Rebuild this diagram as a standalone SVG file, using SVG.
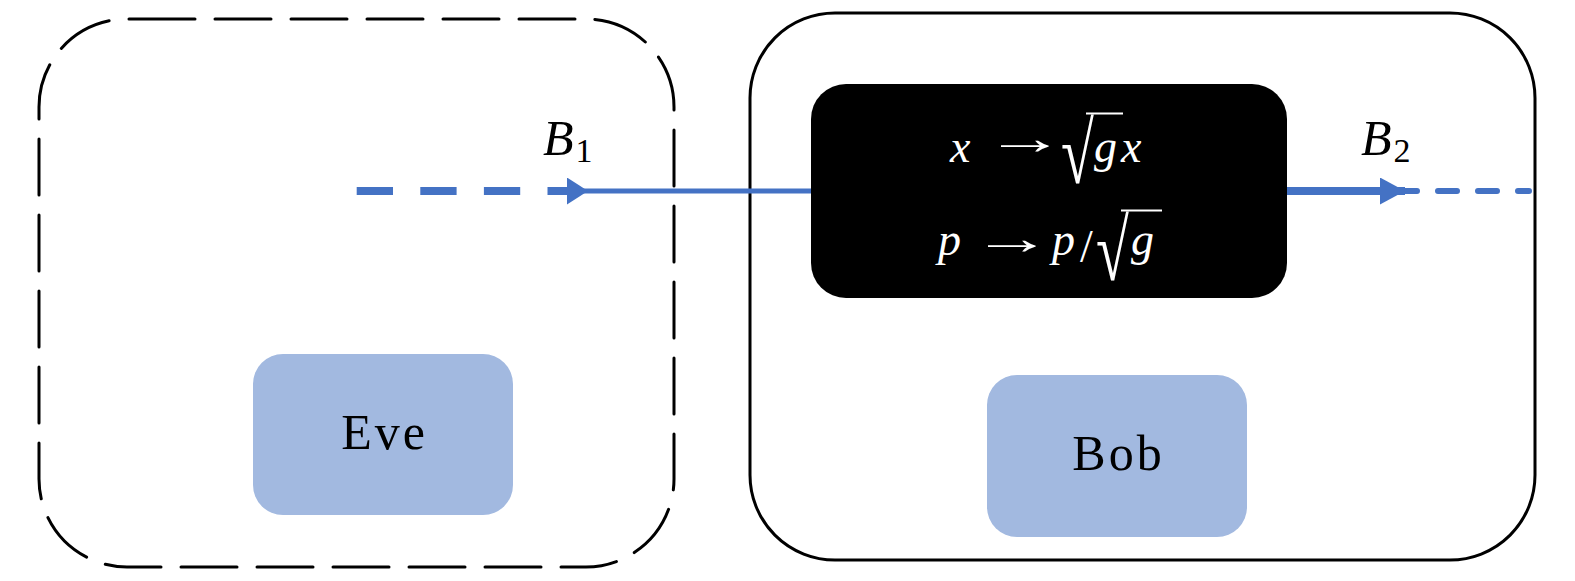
<svg xmlns="http://www.w3.org/2000/svg" width="1575" height="581" viewBox="0 0 1575 581">
  <style>
    .zone { fill: none; stroke: #000; stroke-width: 3; }
    .party { fill: #a2b9e0; }
    .lbl { font-family: "Liberation Serif", "DejaVu Serif", serif; font-size: 50px; letter-spacing: 3px; fill: #000; }
    .math { font-family: "Liberation Serif", "DejaVu Serif", serif; font-style: italic; font-size: 50px; fill: #000; }
    .sub { font-family: "Liberation Serif", "DejaVu Serif", serif; font-size: 34px; fill: #000; }
    .wm { font-family: "Liberation Serif", "DejaVu Serif", serif; font-size: 46px; fill: #fff; }
    .it { font-style: italic; }
    .blue { stroke: #4472c4; fill: none; }
  </style>
  <defs>
    <marker id="ah" viewBox="0 0 21 27" refX="21" refY="13.5" markerWidth="21" markerHeight="27" markerUnits="userSpaceOnUse" orient="auto">
      <path d="M0 0 L21 13.5 L0 27 Z" fill="#4472c4"/>
    </marker>
    <marker id="ah2" viewBox="0 0 25 27" refX="25" refY="13.5" markerWidth="25" markerHeight="27" markerUnits="userSpaceOnUse" orient="auto">
      <path d="M0 0 L25 13.5 L0 27 Z" fill="#4472c4"/>
    </marker>
  </defs>

  <g id="eve-zone">
    <path class="zone" stroke-dasharray="56 20" stroke-linecap="round" d="M139 19 H586 A88 88 0 0 1 674 107 V479 A88 88 0 0 1 586 567 H127 A88 88 0 0 1 39 479 V107 A88 88 0 0 1 127 19 Z"/>
  </g>

  <g id="bob-zone">
    <rect class="zone" x="750" y="13" width="785" height="547" rx="85" ry="85"/>
  </g>

  <g id="connectors">
    <path class="blue" stroke-width="8" stroke-dasharray="36.3 27.3" d="M356.7 191 H567"/>
    <path class="blue" stroke-width="5" d="M567 191 H588" marker-end="url(#ah)"/>
    <path class="blue" stroke-width="5" d="M588 191 H811"/>
    <path class="blue" stroke-width="6" stroke-linecap="round" stroke-dasharray="19 21" d="M1398 191 H1529"/>
    <path class="blue" stroke-width="8" d="M1287 191 H1405" marker-end="url(#ah2)"/>
  </g>

  <g id="transform">
    <rect x="811" y="84" width="476" height="214" rx="35" ry="35" fill="#000"/>
    <text class="wm it" x="950" y="162">x</text>
    <text class="wm" transform="translate(985 154) scale(1.75 1)" x="0" y="0">→</text>
    <text class="wm" transform="translate(1061 183) scale(1.3 1.88)" x="0" y="0" font-size="62">√</text>
    <line x1="1086" y1="113.5" x2="1123" y2="113.5" stroke="#fff" stroke-width="2"/>
    <text class="wm it" x="1094" y="162">g</text>
    <text class="wm it" x="1121" y="162">x</text>
    <text class="wm it" x="938" y="255">p</text>
    <text class="wm" transform="translate(972 254) scale(1.75 1)" x="0" y="0">→</text>
    <text class="wm it" x="1052" y="255">p</text>
    <text class="wm" x="1080" y="262" font-size="52">/</text>
    <text class="wm" transform="translate(1096 280) scale(1.3 1.88)" x="0" y="0" font-size="62">√</text>
    <line x1="1121" y1="210.5" x2="1162" y2="210.5" stroke="#fff" stroke-width="2"/>
    <text class="wm it" x="1131" y="255">g</text>
  </g>

  <g id="eve">
    <rect class="party" x="253" y="354" width="260" height="161" rx="30" ry="30"/>
    <text class="lbl" x="384.5" y="449" text-anchor="middle">Eve</text>
  </g>

  <g id="bob">
    <rect class="party" x="987" y="375" width="260" height="162" rx="30" ry="30"/>
    <text class="lbl" x="1118.5" y="470" text-anchor="middle">Bob</text>
  </g>

  <g id="labels">
    <text class="math" x="543" y="155">B<tspan class="sub" font-style="normal" dx="2" dy="7">1</tspan></text>
    <text class="math" x="1361" y="155">B<tspan class="sub" font-style="normal" dx="2" dy="7">2</tspan></text>
  </g>
</svg>
